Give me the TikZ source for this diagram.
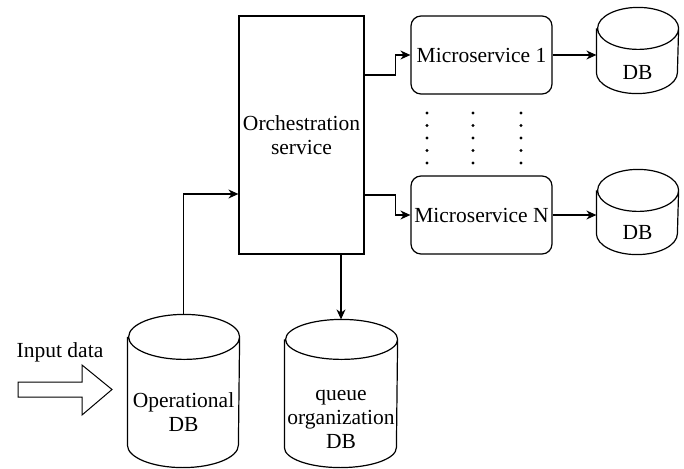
\documentclass[tikz,border=0pt]{standalone}
\usepackage{fontspec}
\setmainfont{Liberation Serif}
\usetikzlibrary{arrows.meta}

% database drawn on the box of a named node: node, x radius, y radius
\newcommand\dbshape[3]{%
  \draw ([yshift=-#3]#1.north west) -- ([yshift=#3]#1.south west)
    arc[start angle=180,end angle=360,x radius=#2,y radius=#3]
    -- ([yshift=-#3]#1.north east)
    arc[start angle=0,end angle=360,x radius=#2,y radius=#3];
}

\begin{document}
\begin{tikzpicture}[x=1pt,y=-1pt,line width=1.2pt,
  every node/.style={font=\fontsize{21.5}{24}\selectfont},
  box/.style={draw,rectangle,inner sep=0pt},
  msbox/.style={draw,rectangle,rounded corners=10pt,minimum width=141pt,minimum height=78pt,inner sep=0pt},
  dbarea/.style={rectangle,inner sep=0pt},
  txt/.style={align=center,inner sep=0pt},
  arr/.style={-{Stealth[length=10pt,width=9pt]}}]

\useasboundingbox (0,0) rectangle (684,468);

% main boxes
\node[box,minimum width=125pt,minimum height=238pt] (orch) at (301.5,135) {};
\node[txt] (orch-txt) at (301.5,135) {Orchestration\\service};

\node[msbox] (ms1) at (481.5,55) {Microservice 1};
\node[msbox] (msn) at (481.5,215) {Microservice N};

% databases
\node[dbarea,minimum width=81pt,minimum height=85pt] (db1) at (637.5,50.5) {};
\dbshape{db1}{40.5pt}{21pt}
\node[txt] (db1-txt) at (637.5,72) {DB};
\node[dbarea,minimum width=81pt,minimum height=84pt] (dbn) at (637.5,212) {};
\dbshape{dbn}{40.5pt}{21pt}
\node[txt] (dbn-txt) at (637.5,232) {DB};

\node[dbarea,minimum width=112pt,minimum height=147pt] (qdb) at (341,393.5) {};
\dbshape{qdb}{56pt}{20pt}
\node[txt] (qdb-txt) at (341,419) {queue\\organization\\DB};
\node[dbarea,minimum width=111pt,minimum height=152pt] (opdb) at (183.5,391) {};
\dbshape{opdb}{55.5pt}{22.5pt}
\node[txt] (opdb-txt) at (183.5,412) {Operational\\DB};

\node[txt] (input) at (60,352) {Input data};

% dots between the microservices
\foreach \dx in {427,473,521}
  \foreach \dy in {113,125.5,138,150.5,163}
    \fill (\dx,\dy) circle (1.7pt);

% input arrow
\draw[line width=1pt] (18,382) -- (82,382) -- (82,365) -- (112,389.5) -- (82,415) -- (82,397) -- (18,397) -- cycle;

% connectors
\draw[arr] ([yshift=60pt]orch.east) -- ++(31,0) |- (ms1.west);
\draw[arr] ([yshift=-60pt]orch.east) -- ++(31,0) |- (msn.west);
\draw[arr] (ms1.east) -- (ms1.east -| db1.west);
\draw[arr] (msn.east) -- (msn.east -| dbn.west);
\draw[arr] (qdb.north |- orch.south) -- (qdb.north);
\draw[arr] (opdb.north) |- ([yshift=-59pt]orch.west);

\end{tikzpicture}
\end{document}
